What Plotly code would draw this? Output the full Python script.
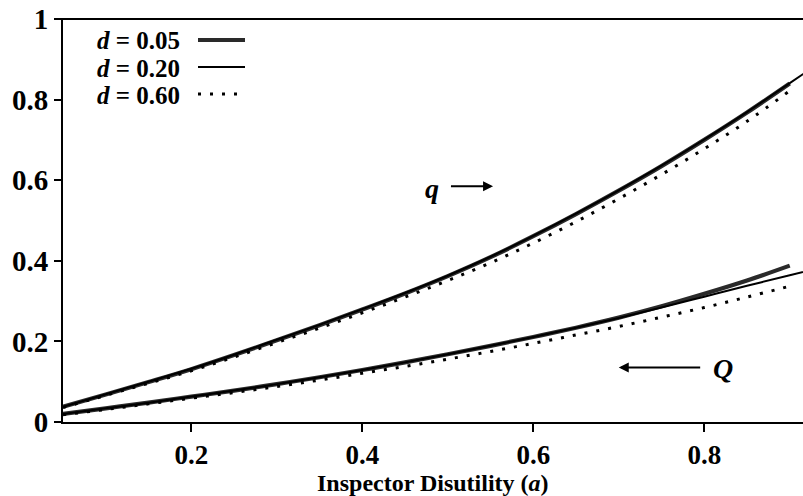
import plotly.graph_objects as go

# ---------------- data ----------------
a_grid = [0.05, 0.10, 0.15, 0.20, 0.25, 0.30, 0.35, 0.40, 0.45, 0.50,
          0.55, 0.60, 0.65, 0.70, 0.75, 0.80, 0.85, 0.90]
a_grid_ext = a_grid + [0.93]

q_d005 = [0.038, 0.068, 0.099, 0.131, 0.166, 0.203, 0.240, 0.279, 0.319, 0.362,
          0.409, 0.461, 0.516, 0.574, 0.635, 0.700, 0.768, 0.840]
q_d020 = [0.038, 0.069, 0.100, 0.132, 0.167, 0.204, 0.241, 0.280, 0.320, 0.363,
          0.410, 0.462, 0.517, 0.575, 0.636, 0.701, 0.769, 0.841, 0.884]
q_d060 = [0.036, 0.066, 0.096, 0.127, 0.161, 0.197, 0.233, 0.271, 0.310, 0.351,
          0.395, 0.444, 0.497, 0.554, 0.614, 0.678, 0.746, 0.822]

Q_d005 = [0.020, 0.034, 0.048, 0.063, 0.078, 0.094, 0.111, 0.129, 0.148, 0.168,
          0.189, 0.211, 0.234, 0.259, 0.287, 0.318, 0.351, 0.388]
Q_d020 = [0.020, 0.034, 0.048, 0.063, 0.078, 0.094, 0.111, 0.129, 0.148, 0.168,
          0.189, 0.211, 0.234, 0.258, 0.284, 0.311, 0.338, 0.364, 0.380]
Q_d060 = [0.018, 0.031, 0.045, 0.059, 0.073, 0.088, 0.104, 0.121, 0.138, 0.156,
          0.175, 0.195, 0.216, 0.237, 0.260, 0.284, 0.310, 0.337]

legend_labels = ["0.05", "0.20", "0.60"]
x_ticks = [0.2, 0.4, 0.6, 0.8]
y_ticks = [0, 0.2, 0.4, 0.6, 0.8, 1]
y_tick_text = ["0", "0.2", "0.4", "0.6", "0.8", "1"]
x_range = [0.05, 0.9155]
x_title = "Inspector Disutility (<i>a</i>)"

# ---------------- styles ----------------
FONT = "Liberation Serif"
W, H = 803, 496
L, R, T, B = 63, 0, 19, 74
PW, PH = W - L - R, H - T - B


def px(x):
    return (x - L) / PW


def py(y):
    return (H - B - y) / PH


thick = dict(color="#2a2a2a", width=4.2)
thin = dict(color="#000000", width=2)
dots = dict(color="#000000", width=3, dash="3px,9px")

fig = go.Figure()
for xs, ys, ln in [
    (a_grid, q_d005, thick), (a_grid_ext, q_d020, thin), (a_grid, q_d060, dots),
    (a_grid, Q_d005, thick), (a_grid_ext, Q_d020, thin), (a_grid, Q_d060, dots),
]:
    fig.add_trace(go.Scatter(x=xs, y=ys, mode="lines", line=dict(shape="spline", **ln),
                             showlegend=False, hoverinfo="skip"))

# frame top line
fig.add_shape(type="line", xref="paper", yref="paper", x0=-0.012, x1=1, y0=1, y1=1,
              line=dict(color="black", width=2))

# legend (text then sample line)
rows_y = [41, 68, 95]
for lab, yy, ln in zip(legend_labels, rows_y, [thick, thin, dots]):
    fig.add_annotation(xref="paper", yref="paper", x=px(95), y=py(yy), xanchor="left",
                       yanchor="middle", showarrow=False,
                       text=f"<i>d</i> = {lab}",
                       font=dict(family=FONT, size=25, color="black", weight="bold"))
    fig.add_shape(type="line", xref="paper", yref="paper", x0=px(198), x1=px(245),
                  y0=py(yy - 1), y1=py(yy - 1), line=ln)

# curve labels
fig.add_annotation(x=0.482, y=0.58, text="<i>q</i>", showarrow=False,
                   font=dict(family=FONT, size=28, color="black", weight="bold"))
fig.add_annotation(x=0.553, y=0.585, ax=0.502, ay=0.585, axref="x", ayref="y",
                   text="", showarrow=True, arrowhead=2, arrowsize=1, arrowwidth=2,
                   arrowcolor="black")
fig.add_annotation(x=0.700, y=0.135, ax=0.797, ay=0.135, axref="x", ayref="y",
                   text="", showarrow=True, arrowhead=2, arrowsize=1, arrowwidth=2,
                   arrowcolor="black")
fig.add_annotation(x=0.822, y=0.132, text="<i>Q</i>", showarrow=False,
                   font=dict(family=FONT, size=28, color="black", weight="bold"))

# x-axis title placed explicitly below the tick labels
fig.add_annotation(xref="paper", yref="paper", x=0.5, y=py(483), xanchor="center",
                   yanchor="middle", showarrow=False, text=x_title,
                   font=dict(family=FONT, size=24, color="black", weight="bold"))

fig.update_layout(
    width=W, height=H, margin=dict(l=L, r=R, t=T, b=B),
    paper_bgcolor="white", plot_bgcolor="white",
    font=dict(family=FONT, color="black"),
    xaxis=dict(range=x_range, tickvals=x_ticks, ticktext=[f"{v:.1f}" for v in x_ticks],
               showgrid=False, zeroline=False, showline=True, linecolor="black",
               linewidth=2, ticks="outside", ticklen=8, tickwidth=2, tickcolor="black",
               tickfont=dict(family=FONT, size=27, weight="bold")),
    yaxis=dict(range=[0, 1], tickvals=y_ticks, ticktext=y_tick_text,
               showgrid=False, zeroline=False, showline=True, linecolor="black",
               linewidth=2, ticks="outside", ticklen=7, tickwidth=2, tickcolor="black",
               tickfont=dict(family=FONT, size=29, weight="bold")),
)

fig.write_html("out.html")
